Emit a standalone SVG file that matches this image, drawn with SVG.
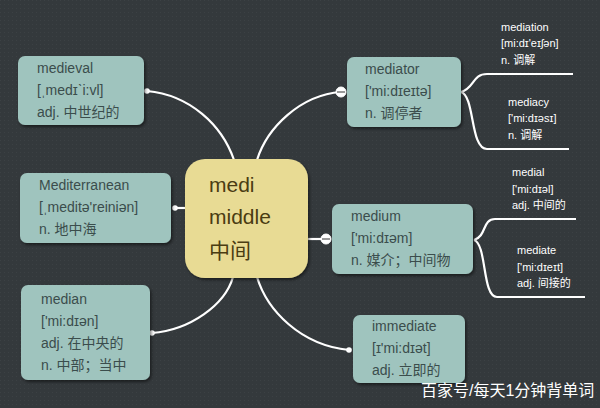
<svg xmlns="http://www.w3.org/2000/svg" width="600" height="408" viewBox="0 0 600 408">
<defs>
<pattern id="grid" width="4" height="4" patternUnits="userSpaceOnUse">
<rect width="4" height="4" fill="#34393c"/>
<rect width="1" height="1" fill="#3c4144"/>
</pattern>
<filter id="sh" x="-10%" y="-10%" width="130%" height="130%">
<feDropShadow dx="1.5" dy="2" stdDeviation="1.5" flood-color="#000" flood-opacity="0.5"/>
</filter>
</defs>
<style>
.box{fill:#9fc4be;filter:url(#sh)}
.center{fill:#e8db94;filter:url(#sh)}
.t{font-family:"Liberation Sans","Noto Sans CJK SC",sans-serif;font-size:14px;fill:#3b4d4c}
.ct{font-family:"Liberation Sans","Noto Sans CJK SC",sans-serif;font-size:21px;fill:#4a3c12}
.s{font-family:"Liberation Sans","Noto Sans CJK SC",sans-serif;font-size:11px;fill:#ffffff}
.wm{font-family:"Liberation Sans","Noto Sans CJK SC",sans-serif;font-size:16px;fill:#ffffff}
.c{fill:none;stroke:#ffffff;stroke-width:2.2}
.dot{fill:#ffffff}
.knob{fill:#ffffff;stroke:#ffffff}
.bar{stroke:#555;stroke-width:1.2}
</style>
<rect width="600" height="408" fill="url(#grid)"/>

<g id="connectors">
<path class="c" d="M147,91 C190,95 222,125 234,160"/>
<path class="c" d="M257,160 C267,128 300,95 341,92"/>
<path class="c" d="M175,208 L186,208"/>
<path class="c" d="M308,239 L326,239"/>
<path class="c" d="M233,277 C225,305 190,330 152,333"/>
<path class="c" d="M257,277 C267,310 300,345 349,350"/>
<path class="c" d="M461,92 C475,88 472,74 487,74 L573,74"/>
<path class="c" d="M461,92 C475,96 470,149 487,149 L569,149"/>
<path class="c" d="M474,240 C487,236 482,219 495,219 L576,219"/>
<path class="c" d="M474,240 C487,244 482,297 497,297 L585,297"/>
<circle class="dot" cx="147" cy="91" r="2.8"/>
<circle class="dot" cx="175" cy="208" r="2.8"/>
<circle class="dot" cx="152" cy="333" r="2.8"/>
<circle class="dot" cx="349" cy="350" r="2.8"/>
<circle class="knob" cx="341" cy="92" r="5"/>
<line class="bar" x1="337" y1="92" x2="345" y2="92"/>
<circle class="knob" cx="326" cy="239" r="5"/>
<line class="bar" x1="322" y1="239" x2="330" y2="239"/>
</g>

<g id="center">
<rect class="center" x="185" y="159" width="123" height="119" rx="20"/>
<text class="ct" x="209" y="192">medi</text>
<text class="ct" x="209" y="224">middle</text>
<text class="ct" x="209" y="258">中间</text>
</g>

<g id="medieval">
<rect class="box" x="18" y="56" width="126" height="69" rx="7"/>
<text class="t" x="37" y="73">medieval</text>
<text class="t" x="37" y="95">[ˌmedɪˋi:vl]</text>
<text class="t" x="37" y="117">adj. 中世纪的</text>
</g>

<g id="mediterranean">
<rect class="box" x="20" y="173" width="151" height="70" rx="7"/>
<text class="t" x="39" y="190">Mediterranean</text>
<text class="t" x="39" y="212">[ˌmeditə'reiniən]</text>
<text class="t" x="39" y="234">n. 地中海</text>
</g>

<g id="median">
<rect class="box" x="21" y="285" width="129" height="95" rx="7"/>
<text class="t" x="41" y="304">median</text>
<text class="t" x="41" y="326">['mi:dɪən]</text>
<text class="t" x="41" y="348">adj. 在中央的</text>
<text class="t" x="41" y="370">n. 中部；当中</text>
</g>

<g id="mediator">
<rect class="box" x="347" y="57" width="114" height="70" rx="7"/>
<text class="t" x="365" y="74">mediator</text>
<text class="t" x="365" y="96">['mi:dɪeɪtə]</text>
<text class="t" x="365" y="118">n. 调停者</text>
</g>

<g id="medium">
<rect class="box" x="332" y="204" width="141" height="70" rx="7"/>
<text class="t" x="351" y="221">medium</text>
<text class="t" x="351" y="243">['mi:dɪəm]</text>
<text class="t" x="351" y="265">n. 媒介；中间物</text>
</g>

<g id="immediate">
<rect class="box" x="353" y="315" width="112" height="68" rx="7"/>
<text class="t" x="372" y="331">immediate</text>
<text class="t" x="372" y="353">[ɪ'mi:dɪət]</text>
<text class="t" x="372" y="375">adj. 立即的</text>
</g>

<g id="mediation">
<text class="s" x="501" y="31">mediation</text>
<text class="s" x="501" y="47">[mi:dɪ'eɪʃən]</text>
<text class="s" x="501" y="64">n. 调解</text>
</g>

<g id="mediacy">
<text class="s" x="508" y="106">mediacy</text>
<text class="s" x="508" y="122">['mi:dɪəsɪ]</text>
<text class="s" x="508" y="139">n. 调解</text>
</g>

<g id="medial">
<text class="s" x="512" y="176">medial</text>
<text class="s" x="512" y="193">['mi:dɪəl]</text>
<text class="s" x="512" y="209">adj. 中间的</text>
</g>

<g id="mediate">
<text class="s" x="517" y="254">mediate</text>
<text class="s" x="517" y="271">['mi:dɪeɪt]</text>
<text class="s" x="517" y="287">adj. 间接的</text>
</g>

<g id="watermark">
<text class="wm" x="421" y="396">百家号/每天1分钟背单词</text>
</g>
</svg>
